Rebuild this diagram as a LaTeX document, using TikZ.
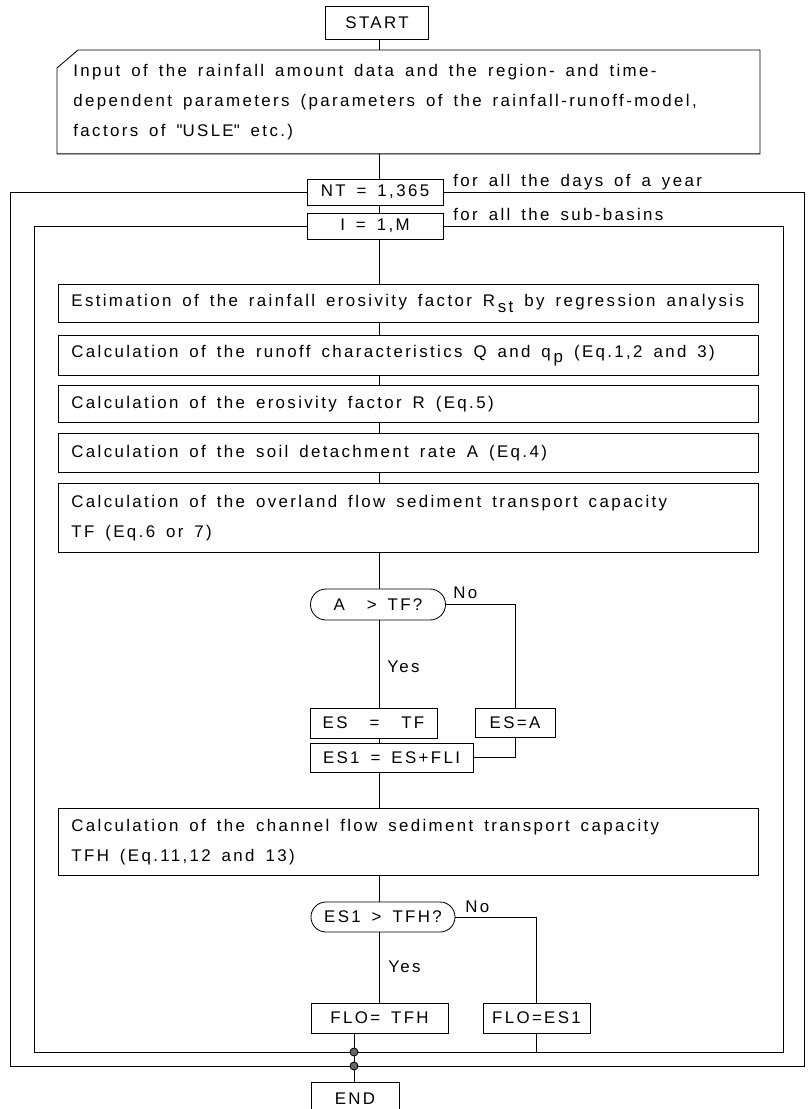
\documentclass[tikz,border=0pt]{standalone}
\usepackage{fontspec}
\setmainfont{Liberation Sans}[LetterSpace=14]
\usetikzlibrary{positioning}
\usetikzlibrary{shapes}
\usetikzlibrary{calc}

\begin{document}
\begin{tikzpicture}[
x=0.025cm, y=-0.025cm,
line width=0.6pt,
every node/.style={font=\fontsize{12}{21.3}\selectfont, execute at begin node={\spaceskip=0.65em\relax}}
]
\tikzstyle{b} = [draw, shape=rectangle, inner sep=0pt]
\tikzstyle{wb} = [draw, shape=rectangle, anchor=north west, minimum width=17.5cm, text width=16.85cm, inner xsep=0.325cm, inner ysep=0pt, align=left]
\tikzstyle{d} = [draw, rounded rectangle, inner sep=0pt]
\tikzstyle{lab} = [anchor=west, inner sep=0pt]
\tikzstyle{dot} = [draw, fill=black!60, circle, inner sep=0pt, minimum size=0.2cm]
\useasboundingbox (0,0) rectangle (811,1109);

\coordinate (m) at (379,0);
\node[b, minimum width=2.575cm, minimum height=0.825cm] (start) at (377,22.5) {START};
\node[anchor=north west, minimum width=17.55cm, minimum height=2.575cm, text width=16.75cm, inner xsep=0.4cm, align=left] (input) at (57,50)
    {Input of the rainfall amount data and the region- and time-\\
    dependent parameters (parameters of the rainfall-runoff-model,\\
    factors of \textquotedbl USLE\textquotedbl{} etc.)};
\draw ([yshift=-0.45cm]input.north west) -- ([xshift=0.525cm]input.north west) -- (input.north east)
    -- (input.south east) -- (input.south west) -- cycle;

% loops
\node[b, minimum width=3.4cm, minimum height=0.65cm, fill=white] (nt) at (375,192) {NT = 1,365};
\node[lab] (ntlab) at (453,182) {for all the days of a year};
\node[b, minimum width=3.4cm, minimum height=0.65cm, fill=white] (ii) at (375,226) {I = 1,M};
\node[lab] (ilab) at (453,214) {for all the sub-basins};
\coordinate (obl) at (10,1066);
\coordinate (otr) at (804,192);
\coordinate (ibl) at (34,1052);
\coordinate (itr) at (783,226);
\draw (nt.west) -| (obl) -| (otr) -- (nt.east);
\draw (ii.west) -| (ibl) -| (itr) -- (ii.east);

\node[wb, minimum height=0.95cm] (est) at (58,284)
    {Estimation of the rainfall erosivity factor R\,\raisebox{-0.6ex}{st} by regression analysis};
\node[wb, minimum height=1.0cm] (run) at (58,335)
    {Calculation of the runoff characteristics Q and q\,\raisebox{-0.6ex}{p} (Eq.1,2 and 3)};
\node[wb, minimum height=0.925cm] (ero) at (58,385) {Calculation of the erosivity factor R (Eq.5)};
\node[wb, minimum height=0.975cm] (soil) at (58,433) {Calculation of the soil detachment rate A (Eq.4)};
\node[wb, minimum height=1.725cm] (over) at (58,483)
    {Calculation of the overland flow sediment transport capacity\\TF (Eq.6 or 7)};

\node[d, minimum width=3.375cm, minimum height=0.775cm] (dec1) at (378,604.5) {A\ \ > TF?};
\node[lab] (no1) at (453,593) {No};
\node[lab] (yes1) at (387,667) {Yes};
\node[b, minimum width=3.175cm, minimum height=0.75cm] (estf) at (373.5,723) {ES\ \ =\ \ TF};
\node[b, minimum width=2cm, minimum height=0.725cm] (esa) at (515,722.5) {ES=A};
\node[b, minimum width=4.075cm, minimum height=0.725cm] (es1) at (391.5,757.5) {ES1 = ES+FLI};

\node[wb, minimum height=1.675cm] (chan) at (58,808)
    {Calculation of the channel flow sediment transport capacity\\TFH (Eq.11,12 and 13)};

\node[d, minimum width=3.6cm, minimum height=0.75cm] (dec2) at (383,917) {ES1 > TFH?};
\node[lab] (no2) at (465,907) {No};
\node[lab] (yes2) at (388,967) {Yes};
\node[b, minimum width=3.425cm, minimum height=0.75cm] (flot) at (379.5,1018) {FLO=\ TFH};
\node[b, minimum width=2.675cm, minimum height=0.75cm] (floe) at (536.5,1018) {FLO=ES1};

\node[dot] (j1) at (354,1052) {};
\node[dot] (j2) at (354,1066) {};
\node[b, minimum width=2.2cm, minimum height=0.85cm] (endn) at (355,1099) {END};

% connectors
\draw (start.south -| m) -- (input.north -| m);
\draw (input.south -| m) -- (nt.north -| m);
\draw (nt.south -| m) -- (ii.north -| m);
\draw (ii.south -| m) -- (est.north -| m);
\draw (est.south -| m) -- (run.north -| m);
\draw (run.south -| m) -- (ero.north -| m);
\draw (ero.south -| m) -- (soil.north -| m);
\draw (soil.south -| m) -- (over.north -| m);
\draw (over.south -| m) -- (dec1.north -| m);
\draw (dec1.south -| m) -- (estf.north -| m);
\draw (dec1.east) -| (esa.north);
\draw (estf.south -| m) -- (es1.north -| m);
\draw (esa.south) |- (es1.east);
\draw (es1.south -| m) -- (chan.north -| m);
\draw (chan.south -| m) -- (dec2.north -| m);
\draw (dec2.south -| m) -- (flot.north -| m);
\draw (dec2.east) -| (floe.north);
\draw (floe.south) -- (floe.south |- ibl);
\draw (flot.south -| j1) -- (j1) -- (j2) -- (endn.north -| j1);
\end{tikzpicture}
\end{document}
